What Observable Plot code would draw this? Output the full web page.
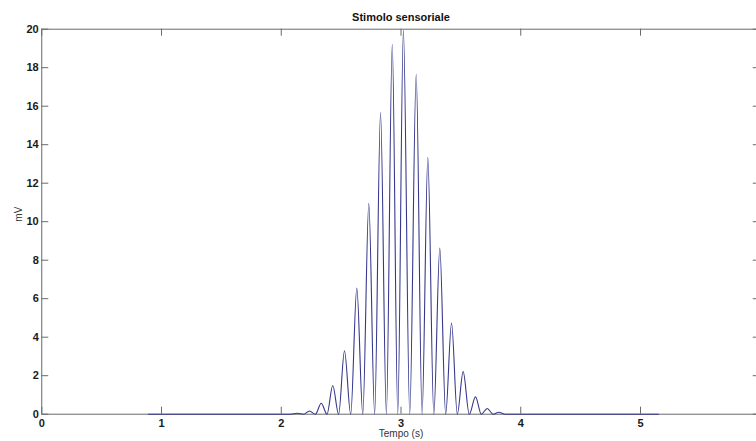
<!DOCTYPE html>
<html>
<head>
<meta charset="utf-8">
<script src="https://cdn.jsdelivr.net/npm/d3@7"></script>
<script src="https://cdn.jsdelivr.net/npm/@observablehq/plot@0.6"></script>
<style>
  html, body { margin: 0; padding: 0; background: #fff; }
  #chart svg { display: block; overflow: hidden; }
</style>
</head>
<body>
<div id="chart"></div>
<script>
// Signal (time in s, amplitude in mV)
const lineStartEnd = [0.89, 5.15];
const peakTimes = [2.133, 2.236, 2.334, 2.430, 2.528, 2.631, 2.731, 2.829, 2.927, 3.020, 3.127, 3.224, 3.324, 3.422, 3.519, 3.622, 3.720, 3.817];
const peakValues = [0.05, 0.17, 0.57, 1.49, 3.3, 6.55, 10.95, 15.67, 19.22, 19.95, 17.66, 13.34, 8.63, 4.74, 2.21, 0.9, 0.3, 0.1];
const troughTimes = [2.08, 2.185, 2.285, 2.382, 2.479, 2.58, 2.681, 2.78, 2.878, 2.973, 3.073, 3.176, 3.274, 3.373, 3.47, 3.57, 3.671, 3.769, 3.87];

const xTicks = [0, 1, 2, 3, 4, 5, 6];
const xTickLabels = [0, 1, 2, 3, 4, 5];
const yTicks = [0, 2, 4, 6, 8, 10, 12, 14, 16, 18, 20];

const titleText = "Stimolo sensoriale";
const xLabel = "Tempo (s)";
const yLabel = "mV";

const signal = [
  ...lineStartEnd.map(t => ({t, v: 0})),
  ...troughTimes.map(t => ({t, v: 0})),
  ...peakTimes.map((t, i) => ({t, v: peakValues[i]}))
].sort((a, b) => a.t - b.t);

const width = 756, height = 441;
const mL = 41.25, mR = -3.75, mT = 28.7, mB = 27.3;
const innerW = width - mL - mR;
const innerH = height - mT - mB;
const tickLen = 7;
const axisColor = "#6a6a6a";
const font = "'Liberation Sans', Arial, sans-serif";

const chart = Plot.plot({
  width, height,
  marginLeft: mL, marginRight: mR, marginTop: mT, marginBottom: mB,
  x: {domain: [0, 6], axis: null},
  y: {domain: [0, 20], axis: null},
  style: {fontFamily: font, background: "#fff", color: "#111"},
  marks: [
    Plot.frame({stroke: axisColor, strokeWidth: 1}),
    // inward ticks bottom & top
    Plot.tickX(xTicks, {x: d => d, insetTop: innerH - tickLen, stroke: axisColor}),
    Plot.tickX(xTicks, {x: d => d, insetBottom: innerH - tickLen, stroke: axisColor}),
    // inward ticks left & right
    Plot.tickY(yTicks, {y: d => d, insetRight: innerW - tickLen, stroke: axisColor}),
    Plot.tickY(yTicks, {y: d => d, insetLeft: innerW - tickLen, stroke: axisColor}),
    // signal
    Plot.line(signal, {x: "t", y: "v", curve: "monotone-x", stroke: "#35388c", strokeWidth: 1.1}),
    // tick labels
    Plot.text(xTickLabels, {x: d => d, frameAnchor: "bottom", dy: 9, lineAnchor: "middle", text: d => String(d), fontWeight: "bold", fontSize: 11, fill: "#1a1a1a"}),
    Plot.text(yTicks, {y: d => d, frameAnchor: "left", dx: -3, textAnchor: "end", text: d => String(d), fontWeight: "bold", fontSize: 11, fill: "#1a1a1a"}),
    // title and axis labels
    Plot.text([titleText], {frameAnchor: "top", dy: -11.4, lineAnchor: "middle", text: d => d, fontWeight: "bold", fontSize: 11, fill: "#111"}),
    Plot.text([xLabel], {frameAnchor: "bottom", dy: 19.5, lineAnchor: "middle", text: d => d, fontSize: 10, fill: "#333"}),
    Plot.text([yLabel], {frameAnchor: "left", dx: -23, rotate: -90, lineAnchor: "middle", text: d => d, fontSize: 10, fill: "#333"})
  ]
});
document.getElementById("chart").append(chart);
</script>
</body>
</html>
